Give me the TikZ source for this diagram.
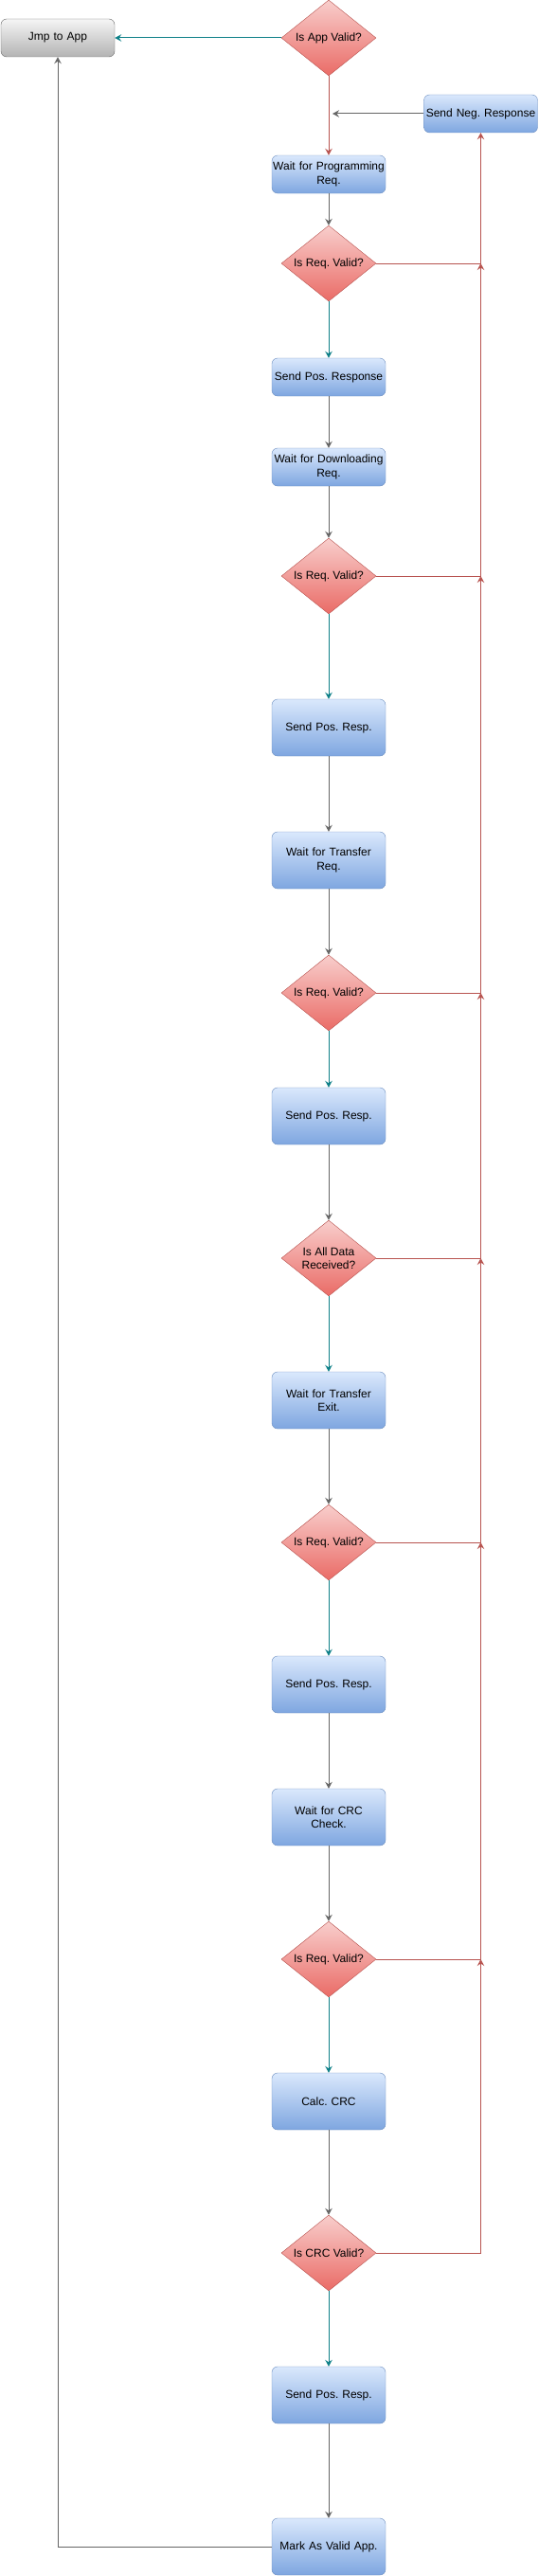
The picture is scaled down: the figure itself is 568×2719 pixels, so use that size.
\documentclass[tikz,border=0pt]{standalone}
\usepackage{fontspec}
\setmainfont{Liberation Sans}
\frenchspacing
\usetikzlibrary{shapes.geometric}
\usetikzlibrary{arrows.meta}

\definecolor{boxtop}{HTML}{DAE8FC}
\definecolor{boxbot}{HTML}{7EA6E0}
\definecolor{boxline}{HTML}{6C8EBF}
\definecolor{dectop}{HTML}{F8CECC}
\definecolor{decbot}{HTML}{EA6B66}
\definecolor{decline}{HTML}{B85450}
\definecolor{termtop}{HTML}{F5F5F5}
\definecolor{termbot}{HTML}{B3B3B3}
\definecolor{lgray}{HTML}{666666}
\definecolor{lteal}{HTML}{0E8088}
\definecolor{lred}{HTML}{B85450}

\begin{document}
\begin{tikzpicture}[x=1pt,y=-1pt]
\tikzset{
proc/.style = {rectangle,draw=boxline,
               rounded corners=6pt,
               top color=boxtop,bottom color=boxbot,
               minimum width=120pt,
               minimum height=40pt,
               text width=118pt,inner xsep=1pt,
               align=center,
               font=\fontsize{12}{14.5}\selectfont},
proctall/.style = {proc,
                   minimum height=60pt},
term/.style = {proc,draw=lgray,
               top color=termtop,bottom color=termbot},
decide/.style = {diamond,draw=decline,
                 top color=dectop,bottom color=decbot,
                 aspect=1.25,
                 minimum width=100pt,
                 minimum height=80pt,
                 inner sep=0pt,
                 align=center,
                 font=\fontsize{12}{14.5}\selectfont},
flow/.style = {draw=lgray,line width=1pt,
               -{Stealth[length=7pt,width=7.5pt,inset=2.5pt]}},
yesflow/.style = {flow,draw=lteal},
noflow/.style = {flow,draw=lred}
}

\useasboundingbox (0,0) rectangle (568,2719);

\node[term]     at (61,40)     (jmp)  {Jmp to App};
\node[decide]   at (347,40)    (app)  {Is App Valid?};
\node[proc]     at (507.5,120) (neg)  {Send Neg. Response};
\node[proc]     at (347,184)   (prog) {Wait for Programming\\Req.};
\node[decide]   at (347,278)   (req1) {Is Req. Valid?};
\node[proc]     at (347,398)   (posr) {Send Pos. Response};
\node[proc]     at (347,493)   (down) {Wait for Downloading\\Req.};
\node[decide]   at (347,608)   (req2) {Is Req. Valid?};
\node[proctall] at (347,768)   (pos1) {Send Pos. Resp.};
\node[proctall] at (347,908)   (xfer) {Wait for Transfer\\Req.};
\node[decide]   at (347,1048)  (req3) {Is Req. Valid?};
\node[proctall] at (347,1178)  (pos2) {Send Pos. Resp.};
\node[decide]   at (347,1328)  (data) {Is All Data\\Received?};
\node[proctall] at (347,1478)  (exit) {Wait for Transfer\\Exit.};
\node[decide]   at (347,1628)  (req4) {Is Req. Valid?};
\node[proctall] at (347,1778)  (pos3) {Send Pos. Resp.};
\node[proctall] at (347,1918)  (crcw) {Wait for CRC\\Check.};
\node[decide]   at (347,2068)  (req5) {Is Req. Valid?};
\node[proctall] at (347,2218)  (calc) {Calc. CRC};
\node[decide]   at (347,2378)  (crcv) {Is CRC Valid?};
\node[proctall] at (347,2528)  (pos4) {Send Pos. Resp.};
\node[proctall] at (347,2688)  (mark) {Mark As Valid App.};

\coordinate (negin) at (351,120);
\coordinate (j1) at (neg.south |- req1.east);
\coordinate (j2) at (neg.south |- req2.east);
\coordinate (j3) at (neg.south |- req3.east);
\coordinate (j4) at (neg.south |- data.east);
\coordinate (j5) at (neg.south |- req4.east);
\coordinate (j6) at (neg.south |- req5.east);

\draw[yesflow] (app) -- (jmp);
\draw[noflow]  (app) -- (prog);
\draw[flow]    (neg) -- (negin);

\draw[flow]    (prog) -- (req1);
\draw[yesflow] (req1) -- (posr);
\draw[flow]    (posr) -- (down);
\draw[flow]    (down) -- (req2);
\draw[yesflow] (req2) -- (pos1);
\draw[flow]    (pos1) -- (xfer);
\draw[flow]    (xfer) -- (req3);
\draw[yesflow] (req3) -- (pos2);
\draw[flow]    (pos2) -- (data);
\draw[yesflow] (data) -- (exit);
\draw[flow]    (exit) -- (req4);
\draw[yesflow] (req4) -- (pos3);
\draw[flow]    (pos3) -- (crcw);
\draw[flow]    (crcw) -- (req5);
\draw[yesflow] (req5) -- (calc);
\draw[flow]    (calc) -- (crcv);
\draw[yesflow] (crcv) -- (pos4);
\draw[flow]    (pos4) -- (mark);
\draw[flow]    (mark.west) -| (jmp.south);

\draw[noflow] (req1.east) -| (neg.south);
\draw[noflow] (req2.east) -| (j1);
\draw[noflow] (req3.east) -| (j2);
\draw[noflow] (data.east) -| (j3);
\draw[noflow] (req4.east) -| (j4);
\draw[noflow] (req5.east) -| (j5);
\draw[noflow] (crcv.east) -| (j6);
\end{tikzpicture}
\end{document}
